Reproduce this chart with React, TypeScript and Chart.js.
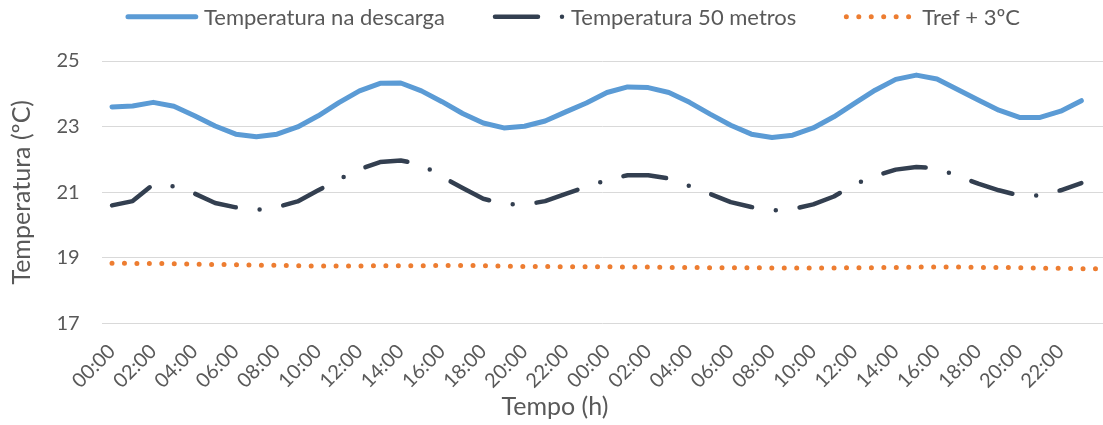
import React, { useEffect, useRef } from "react";
import { Chart, registerables } from "chart.js";

Chart.register(...registerables);

const HOUR_LABELS = [
  "00:00", "01:00", "02:00", "03:00", "04:00", "05:00", "06:00", "07:00",
  "08:00", "09:00", "10:00", "11:00", "12:00", "13:00", "14:00", "15:00",
  "16:00", "17:00", "18:00", "19:00", "20:00", "21:00", "22:00", "23:00",
  "00:00", "01:00", "02:00", "03:00", "04:00", "05:00", "06:00", "07:00",
  "08:00", "09:00", "10:00", "11:00", "12:00", "13:00", "14:00", "15:00",
  "16:00", "17:00", "18:00", "19:00", "20:00", "21:00", "22:00", "23:00",
  "00:00",
];

const X_TICK_INDEXES = [
  0, 2, 4, 6, 8, 10, 12, 14, 16, 18, 20, 22,
  24, 26, 28, 30, 32, 34, 36, 38, 40, 42, 44, 46,
];

const Y_TICKS = [17, 19, 21, 23, 25];

const SERIES_NAMES = ["Temperatura na descarga", "Temperatura 50 metros", "Tref + 3ºC"];
const Y_TITLE = "Temperatura (ºC)";
const X_TITLE = "Tempo (h)";

const DESCARGA = [
  23.60, 23.63, 23.74, 23.62, 23.33, 23.02, 22.77, 22.69, 22.77, 22.99,
  23.33, 23.73, 24.09, 24.32, 24.33, 24.09, 23.76, 23.40, 23.11, 22.96,
  23.01, 23.17, 23.45, 23.72, 24.04, 24.21, 24.19, 24.04, 23.74, 23.38,
  23.04, 22.77, 22.67, 22.74, 22.96, 23.30, 23.71, 24.11, 24.44, 24.57,
  24.45, 24.13, 23.81, 23.50, 23.28, 23.28, 23.47, 23.79,
];

const METROS_50 = [
  20.60, 20.73, 21.24, 21.18, 20.96, 20.67, 20.54, 20.46, 20.55, 20.72,
  21.06, 21.39, 21.70, 21.92, 21.97, 21.84, 21.47, 21.13, 20.80, 20.65,
  20.62, 20.73, 20.95, 21.17, 21.37, 21.52, 21.52, 21.42, 21.19, 20.95,
  20.70, 20.55, 20.44, 20.49, 20.63, 20.87, 21.24, 21.50, 21.69, 21.77,
  21.73, 21.50, 21.26, 21.06, 20.90, 20.90, 21.06, 21.28,
];

const TREF_3 = [
  18.84, 18.83, 18.83, 18.82, 18.81, 18.80, 18.79, 18.78, 18.77, 18.76,
  18.75, 18.75, 18.75, 18.76, 18.76, 18.76, 18.77, 18.77, 18.76, 18.75,
  18.74, 18.74, 18.73, 18.73, 18.73, 18.72, 18.72, 18.71, 18.71, 18.70,
  18.70, 18.70, 18.69, 18.69, 18.69, 18.69, 18.70, 18.70, 18.71, 18.72,
  18.72, 18.72, 18.71, 18.71, 18.70, 18.69, 18.68, 18.67, 18.67,
];

const FONT = "Lato, 'Noto Sans', sans-serif";
const TEXT_COLOR = "#595959";

const toPoints = (values: number[]) => values.map((v, i) => ({ x: i, y: v }));

const legendPlugin = {
  id: "customLegend",
  afterDraw(chart: any) {
    const ctx = chart.ctx as CanvasRenderingContext2D;
    ctx.save();
    ctx.font = `22px ${FONT}`;
    const sample = 67;
    const gapText = 9;
    const gapItem = 50;
    const items = chart.data.datasets.map((ds: any) => ({ ds, w: ctx.measureText(ds.label).width }));
    const total =
      items.reduce((s: number, it: any) => s + sample + gapText + it.w, 0) + gapItem * (items.length - 1);
    let x = 574 - total / 2;
    const yLine = 16.7;
    items.forEach(({ ds, w }: any) => {
      ctx.beginPath();
      ctx.setLineDash(ds.borderDash || []);
      ctx.lineDashOffset = 0;
      ctx.lineCap = "round";
      ctx.lineJoin = "round";
      ctx.lineWidth = ds.borderWidth;
      ctx.strokeStyle = ds.borderColor;
      ctx.moveTo(x, yLine);
      ctx.lineTo(x + sample + 0.8, yLine);
      ctx.stroke();
      ctx.setLineDash([]);
      ctx.fillStyle = TEXT_COLOR;
      ctx.textBaseline = "alphabetic";
      ctx.textAlign = "left";
      ctx.fillText(ds.label, x + sample + gapText, 25);
      x += sample + gapText + w + gapItem;
    });
    ctx.restore();
  },
};

const xTitlePlugin = {
  id: "xTitle",
  afterDraw(chart: any) {
    const ctx = chart.ctx as CanvasRenderingContext2D;
    ctx.save();
    ctx.font = `25px ${FONT}`;
    ctx.fillStyle = TEXT_COLOR;
    ctx.textAlign = "center";
    ctx.textBaseline = "alphabetic";
    ctx.fillText(X_TITLE, 555, 415);
    ctx.restore();
  },
};

export default function App() {
  const canvasRef = useRef<HTMLCanvasElement | null>(null);

  useEffect(() => {
    if (!canvasRef.current) return;
    const chart = new Chart(canvasRef.current, {
      type: "line",
      data: {
        datasets: [
          {
            label: SERIES_NAMES[0],
            data: toPoints(DESCARGA),
            borderColor: "#5B9BD5",
            backgroundColor: "#5B9BD5",
            borderWidth: 5,
            borderCapStyle: "round",
            borderJoinStyle: "round",
            pointRadius: 0,
            tension: 0,
          },
          {
            label: SERIES_NAMES[1],
            data: toPoints(METROS_50),
            borderColor: "#333F50",
            backgroundColor: "#333F50",
            borderWidth: 4.5,
            borderDash: [43, 24, 0, 24],
            borderCapStyle: "round",
            borderJoinStyle: "round",
            pointRadius: 0,
            tension: 0,
          },
          {
            label: SERIES_NAMES[2],
            data: toPoints(TREF_3),
            borderColor: "#ED7D31",
            backgroundColor: "#ED7D31",
            borderWidth: 5,
            borderDash: [0, 12.45],
            borderCapStyle: "round",
            borderJoinStyle: "round",
            pointRadius: 0,
            tension: 0,
          },
        ],
      },
      options: {
        responsive: false,
        animation: false,
        events: [],
        layout: { padding: { top: 61, left: 0, right: 0, bottom: 0 } },
        plugins: {
          legend: { display: false },
          tooltip: { enabled: false },
        },
        scales: {
          x: {
            type: "linear",
            min: -0.5,
            max: 48.05,
            grid: { display: false, drawTicks: false },
            border: { display: false },
            afterBuildTicks: (scale: any) => {
              scale.ticks = X_TICK_INDEXES.map((v) => ({ value: v }));
            },
            afterFit: (scale: any) => {
              scale.height = 101.5;
            },
            ticks: {
              autoSkip: false,
              minRotation: 45,
              maxRotation: 45,
              padding: 16,
              color: TEXT_COLOR,
              font: { family: FONT, size: 20 },
              callback: (v: any) => HOUR_LABELS[v as number],
            },
          },
          y: {
            min: Y_TICKS[0],
            max: Y_TICKS[Y_TICKS.length - 1],
            afterBuildTicks: (scale: any) => {
              scale.ticks = Y_TICKS.map((v) => ({ value: v }));
            },
            afterFit: (scale: any) => {
              scale.width = 101.7;
            },
            grid: { color: "#D9D9D9", lineWidth: 1, drawTicks: false },
            border: { display: false },
            ticks: {
              padding: 22,
              color: TEXT_COLOR,
              font: { family: FONT, size: 20 },
            },
            title: {
              display: true,
              text: Y_TITLE,
              color: TEXT_COLOR,
              font: { family: FONT, size: 25, lineHeight: 1 },
              padding: { top: 9, bottom: 0 },
            },
          },
        },
      },
      plugins: [legendPlugin, xTitlePlugin],
    });
    return () => chart.destroy();
  }, []);

  return (
    <div style={{ position: "absolute", left: 0, top: 0, width: 1103, height: 425, background: "#fff" }}>
      <canvas ref={canvasRef} width={1103} height={425} style={{ display: "block" }} />
    </div>
  );
}
